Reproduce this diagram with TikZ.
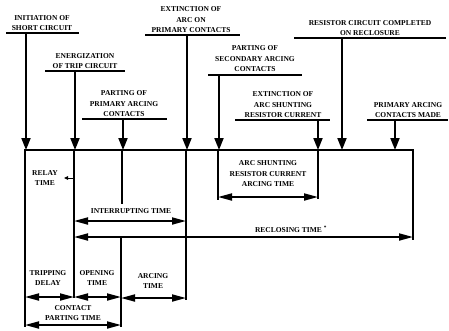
\documentclass[tikz,border=0pt]{standalone}
\usepackage{fontspec}
\setmainfont{Liberation Serif}
\usetikzlibrary{arrows.meta}
\newcommand\lbfont{\bfseries\fontsize{7.5}{10.5}\selectfont}
\begin{document}
\begin{tikzpicture}[x=1pt,y=-1pt,
  lbl/.style={font=\lbfont, align=center, inner sep=0pt},
  evarrow/.style={line width=1.9pt, -{Triangle[length=12pt,width=9pt]}},
  uline/.style={line width=1.3pt},
  tline/.style={line width=1.9pt},
  baseline/.style={line width=2.6pt},
  dimarrow/.style={line width=1.8pt, {Triangle[length=14pt,width=7pt]}-{Triangle[length=14pt,width=7pt]}},
  smallarrow/.style={line width=1pt, -{Triangle[length=4pt,width=3.5pt]}}
]
\useasboundingbox (0,0) rectangle (449,330);

% ---- event labels ----
\node[lbl, anchor=south] (l1) at (42,31) {INITIATION OF\\SHORT CIRCUIT};
\node[lbl, anchor=south] (l2) at (85,69) {ENERGIZATION\\OF TRIP CIRCUIT};
\node[lbl, anchor=south] (l3) at (124,117) {PARTING OF\\PRIMARY ARCING\\CONTACTS};
\node[lbl, anchor=south] (l4) at (191,33) {EXTINCTION OF\\ARC ON\\PRIMARY CONTACTS};
\node[lbl, anchor=south] (l5) at (255,72) {PARTING OF\\SECONDARY ARCING\\CONTACTS};
\node[lbl, anchor=south] (l6) at (283,118) {EXTINCTION OF\\ARC SHUNTING\\RESISTOR CURRENT};
\node[lbl, anchor=south] (l7) at (370,36) {RESISTOR CIRCUIT COMPLETED\\ON RECLOSURE};
\node[lbl, anchor=south] (l8) at (408,118) {PRIMARY ARCING\\CONTACTS MADE};

% underlines
\draw[uline] (6,33) -- (79,33);
\draw[uline] (45,71) -- (125,71);
\draw[uline] (82,119) -- (167,119);
\draw[uline] (145,35) -- (240,35);
\draw[uline] (208,75) -- (302,75);
\draw[uline] (235,120) -- (330,120);
\draw[uline] (294,38) -- (446,38);
\draw[uline] (367,120) -- (448,120);

% event coordinates
\coordinate (e1t) at (26,33);  \coordinate (e1b) at (26,150);
\coordinate (e2t) at (75,71);  \coordinate (e2b) at (75,150);
\coordinate (e3t) at (123,119);\coordinate (e3b) at (123,150);
\coordinate (e4t) at (187,35); \coordinate (e4b) at (187,150);
\coordinate (e5t) at (219,75); \coordinate (e5b) at (219,150);
\coordinate (e6t) at (318,120);\coordinate (e6b) at (318,150);
\coordinate (e7t) at (342,38); \coordinate (e7b) at (342,150);
\coordinate (e8t) at (395,120);\coordinate (e8b) at (395,150);

\foreach \i in {1,...,8} \draw[evarrow] (e\i t) -- (e\i b);

% ---- base line and frame ----
\coordinate (bl) at (24,150);
\coordinate (br) at (414,150);
\draw[baseline] (bl) -- (br);
\coordinate (rb) at (413,240);
\draw[tline] (413,150) -- (rb);

% verticals below
\coordinate (v1b) at (25,327);
\draw[tline] (25,150) -- (v1b);
\coordinate (v2b) at (74,298);
\draw[tline] (74,150) -- (v2b);
\coordinate (v3a) at (122,204);
\draw[tline] (122,150) -- (v3a);
\coordinate (v3t) at (121,237); \coordinate (v3b) at (121,327);
\draw[tline] (v3t) -- (v3b);
\coordinate (v4b) at (186,300);
\draw[tline] (186,150) -- (v4b);
\coordinate (v5b) at (218,200);
\draw[tline] (218,150) -- (v5b);
\coordinate (v6b) at (318,199);
\draw[tline] (318,150) -- (v6b);

% ---- interval labels ----
\node[lbl] (relay) at (45,178) {RELAY\\TIME};
\coordinate (relA) at (74,178); \coordinate (relB) at (64,178);
\draw[smallarrow] (relA) -- (relB);

\node[lbl] (intr) at (131,211) {INTERRUPTING TIME};
\coordinate (intL) at (74,221); \coordinate (intR) at (186,221);
\draw[dimarrow] (intL) -- (intR);

\node[lbl] (recl) at (291,229) {RECLOSING TIME \textsuperscript{*}};
\coordinate (recL) at (74,237); \coordinate (recR) at (413,237);
\draw[dimarrow] (recL) -- (recR);

\node[lbl] (arcsh) at (268,174) {ARC SHUNTING\\RESISTOR CURRENT\\ARCING TIME};
\coordinate (asL) at (218,197); \coordinate (asR) at (318,197);
\draw[dimarrow] (asL) -- (asR);

\node[lbl] (trip) at (48,278) {TRIPPING\\DELAY};
\coordinate (tdL) at (25,297); \coordinate (tdR) at (74,297);
\draw[dimarrow] (tdL) -- (tdR);

\node[lbl] (open) at (97,278) {OPENING\\TIME};
\coordinate (opL) at (74,297); \coordinate (opR) at (121,297);
\draw[dimarrow] (opL) -- (opR);

\node[lbl] (arc) at (153,281) {ARCING\\TIME};
\coordinate (arL) at (121,298); \coordinate (arR) at (186,298);
\draw[dimarrow] (arL) -- (arR);

\node[lbl] (cpt) at (73,313) {CONTACT\\PARTING TIME};
\coordinate (cpL) at (25,325); \coordinate (cpR) at (121,325);
\draw[dimarrow] (cpL) -- (cpR);
\end{tikzpicture}
\end{document}
